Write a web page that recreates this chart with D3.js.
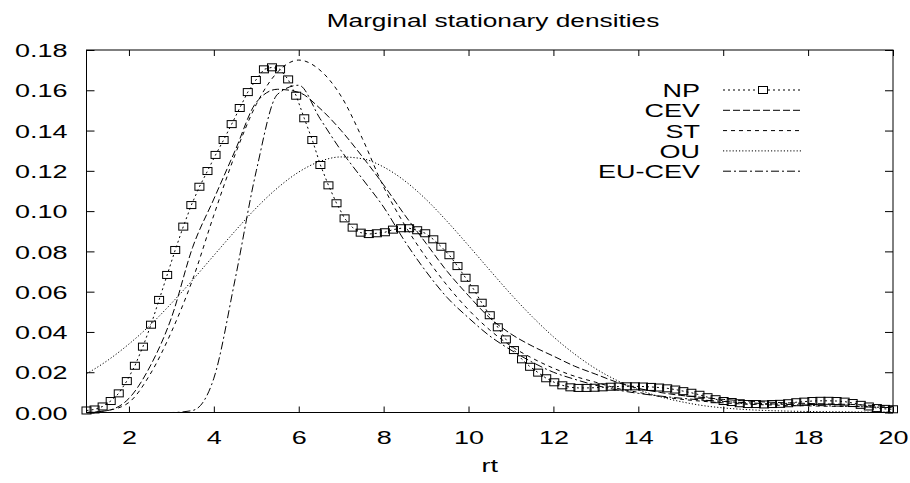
<!DOCTYPE html>
<html>
<head>
<meta charset="utf-8">
<script src="https://cdn.jsdelivr.net/npm/d3@7/dist/d3.min.js"></script>
<style>
  body { margin: 0; background: #fff; }
  svg { display: block; }
  text { font-family: "Liberation Sans", Arial, sans-serif; fill: #000; }
</style>
</head>
<body>
<div class="container"></div>
<script>
// grid of the smooth model curves
const xs = [1, 1.5, 2, 2.5, 3, 3.5, 4, 4.5, 5, 5.5, 6, 6.5, 7, 7.5, 8, 8.5, 9, 9.5, 10, 10.5,
  11, 11.5, 12, 12.5, 13, 13.5, 14, 14.5, 15, 15.5, 16, 16.5, 17, 17.5, 18, 18.5, 19, 19.5, 20];

const cev = [0.0000, 0.0010, 0.0070, 0.0230, 0.0470, 0.0820, 0.1060, 0.1300, 0.1540, 0.1605,
  0.1590, 0.1510, 0.1400, 0.1270, 0.1130, 0.0980, 0.0840, 0.0700, 0.0580, 0.0470,
  0.0390, 0.0330, 0.0280, 0.0230, 0.0190, 0.0150, 0.0120, 0.0100, 0.0085, 0.0075,
  0.0065, 0.0058, 0.0052, 0.0048, 0.0045, 0.0042, 0.0040, 0.0035, 0.0030];

const st = [0.0000, 0.0010, 0.0050, 0.0190, 0.0400, 0.0660, 0.0980, 0.1280, 0.1530, 0.1690,
  0.1750, 0.1700, 0.1570, 0.1360, 0.1120, 0.0930, 0.0770, 0.0630, 0.0510, 0.0410,
  0.0330, 0.0270, 0.0220, 0.0180, 0.0150, 0.0120, 0.0100, 0.0080, 0.0066, 0.0056,
  0.0048, 0.0042, 0.0038, 0.0035, 0.0033, 0.0031, 0.0030, 0.0028, 0.0025];

const ou = [0.0192, 0.0259, 0.0340, 0.0434, 0.0542, 0.0658, 0.0780, 0.0901, 0.1016, 0.1115,
  0.1194, 0.1247, 0.1269, 0.1260, 0.1219, 0.1150, 0.1058, 0.0948, 0.0829, 0.0707,
  0.0587, 0.0476, 0.0376, 0.0290, 0.0217, 0.0159, 0.0114, 0.0079, 0.0054, 0.0035,
  0.0023, 0.0015, 0.0010, 0.0007, 0.0005, 0.0004, 0.0003, 0.0002, 0.0002];

const euCev = [0, 0, 0, 0, 0, 0.0010, 0.0170, 0.0660, 0.1200, 0.1580,
  0.1625, 0.1460, 0.1300, 0.1160, 0.1020, 0.0850, 0.0700, 0.0570, 0.0470, 0.0380,
  0.0310, 0.0250, 0.0200, 0.0165, 0.0135, 0.0112, 0.0095, 0.0082, 0.0071, 0.0062,
  0.0055, 0.0049, 0.0044, 0.0040, 0.0036, 0.0033, 0.0030, 0.0027, 0.0024];

// nonparametric estimate, one point per marker
const npX = [1.00, 1.19, 1.38, 1.57, 1.76, 1.95, 2.14, 2.33, 2.52, 2.71, 2.90, 3.09, 3.28, 3.47,
  3.66, 3.85, 4.04, 4.23, 4.42, 4.61, 4.80, 4.99, 5.18, 5.37, 5.56, 5.75, 5.94, 6.13, 6.32,
  6.51, 6.70, 6.89, 7.08, 7.27, 7.46, 7.65, 7.84, 8.03, 8.22, 8.41, 8.60, 8.79, 8.98, 9.17,
  9.36, 9.55, 9.74, 9.93, 10.12, 10.31, 10.50, 10.69, 10.88, 11.07, 11.26, 11.45, 11.64,
  11.83, 12.02, 12.21, 12.40, 12.59, 12.78, 12.97, 13.16, 13.35, 13.54, 13.73, 13.92, 14.11,
  14.30, 14.49, 14.68, 14.87, 15.06, 15.25, 15.44, 15.63, 15.82, 16.01, 16.20, 16.39, 16.58,
  16.77, 16.96, 17.15, 17.34, 17.53, 17.72, 17.91, 18.10, 18.29, 18.48, 18.67, 18.86, 19.05,
  19.24, 19.43, 19.62, 19.81, 20.00];

const npY = [0.0010, 0.0015, 0.0030, 0.0057, 0.0095, 0.0156, 0.0232, 0.0327, 0.0436, 0.0559,
  0.0683, 0.0807, 0.0923, 0.1030, 0.1121, 0.1199, 0.1279, 0.1353, 0.1432, 0.1512,
  0.1591, 0.1651, 0.1704, 0.1714, 0.1704, 0.1654, 0.1573, 0.1461, 0.1353, 0.1229,
  0.1128, 0.1039, 0.0964, 0.0918, 0.0893, 0.0886, 0.0890, 0.0895, 0.0908, 0.0915,
  0.0915, 0.0905, 0.0890, 0.0860, 0.0823, 0.0781, 0.0727, 0.0669, 0.0612, 0.0545,
  0.0483, 0.0423, 0.0363, 0.0310, 0.0264, 0.0227, 0.0198, 0.0170, 0.0150, 0.0135,
  0.0125, 0.0122, 0.0122, 0.0123, 0.0125, 0.0128, 0.0129, 0.0130, 0.0130, 0.0129,
  0.0127, 0.0124, 0.0120, 0.0114, 0.0106, 0.0098, 0.0088, 0.0076, 0.0066, 0.0057,
  0.0052, 0.0046, 0.0042, 0.0042, 0.0040, 0.0042, 0.0043, 0.0046, 0.0051, 0.0054,
  0.0057, 0.0058, 0.0058, 0.0057, 0.0054, 0.0047, 0.0038, 0.0030, 0.0022, 0.0018, 0.0016];

const xTicks = [2, 4, 6, 8, 10, 12, 14, 16, 18, 20];
const yTicks = [0, 0.02, 0.04, 0.06, 0.08, 0.10, 0.12, 0.14, 0.16, 0.18];
const legendNames = ["NP", "CEV", "ST", "OU", "EU-CEV"];

const w = 910;
const h = 483;
const padL = 86.5, padR = 893, padT = 50, padB = 412.5;
const sx = 1.42; // the original picture is stretched sideways

const xScale = d3.scaleLinear().domain([1, 20]).range([padL, padR]);
const yScale = d3.scaleLinear().domain([0, 0.18]).range([padB, padT]);

const svg = d3.select(".container")
  .append("svg")
  .attr("width", w)
  .attr("height", h);

function label(x, y, str, anchor, size) {
  return svg.append("text")
    .attr("transform", "translate(" + x + "," + y + ") scale(" + sx + ",1)")
    .attr("text-anchor", anchor)
    .attr("font-size", size)
    .text(str);
}

label(493, 27, "Marginal stationary densities", "middle", 18.5);
label((padL + padR) / 2, 472, "rt", "middle", 19);

// axes, ticks pointing inwards like gnuplot
const yAxis = d3.axisLeft(yScale).tickValues(yTicks).tickFormat(d3.format(".2f"))
  .tickSize(-8).tickPadding(0);
const gy = svg.append("g").attr("transform", "translate(" + padL + ",0)").call(yAxis);
gy.select(".domain").remove();
gy.selectAll("text")
  .attr("x", null).attr("dy", "0.35em")
  .attr("transform", "translate(-19,0) scale(" + sx + ",1)")
  .attr("font-size", 19).attr("font-family", "Liberation Sans, Arial, sans-serif");

const xAxis = d3.axisBottom(xScale).tickValues(xTicks).tickFormat(d3.format("d"))
  .tickSize(-6).tickPadding(0);
const gx = svg.append("g").attr("transform", "translate(0," + padB + ")").call(xAxis);
gx.select(".domain").remove();
gx.selectAll("text")
  .attr("y", null).attr("dy", null)
  .attr("transform", "translate(0,31) scale(" + sx + ",1)")
  .attr("font-size", 19).attr("font-family", "Liberation Sans, Arial, sans-serif");

const gr = svg.append("g").attr("transform", "translate(" + padR + ",0)")
  .call(d3.axisRight(yScale).tickValues(yTicks).tickSize(-8).tickFormat(""));
gr.select(".domain").remove();
const gt = svg.append("g").attr("transform", "translate(0," + padT + ")")
  .call(d3.axisTop(xScale).tickValues(xTicks).tickSize(-6).tickFormat(""));
gt.select(".domain").remove();
svg.selectAll(".tick line").attr("stroke", "#000");

svg.append("rect")
  .attr("x", padL).attr("y", padT)
  .attr("width", padR - padL).attr("height", padB - padT)
  .attr("fill", "none").attr("stroke", "#000").attr("stroke-width", 1);

const styles = {
  NP: "2,3",
  CEV: "7,3",
  ST: "4,4",
  OU: "1.2,2",
  "EU-CEV": "8,3,2,3"
};

const line = d3.line()
  .x((d) => xScale(d[0]))
  .y((d) => yScale(d[1]))
  .curve(d3.curveMonotoneX);

const smooth = [
  { name: "CEV", values: cev },
  { name: "ST", values: st },
  { name: "OU", values: ou },
  { name: "EU-CEV", values: euCev }
];

smooth.forEach((s) => {
  svg.append("path")
    .datum(xs.map((x, i) => [x, s.values[i]]))
    .attr("d", line)
    .attr("fill", "none")
    .attr("stroke", "#000")
    .attr("stroke-width", 1)
    .attr("stroke-dasharray", styles[s.name]);
});

const npData = npX.map((x, i) => [x, npY[i]]);
svg.append("path")
  .datum(npData)
  .attr("d", d3.line().x((d) => xScale(d[0])).y((d) => yScale(d[1])))
  .attr("fill", "none")
  .attr("stroke", "#000")
  .attr("stroke-width", 1)
  .attr("stroke-dasharray", styles.NP);

svg.selectAll("rect.np")
  .data(npData)
  .enter()
  .append("rect")
  .attr("class", "np")
  .attr("x", (d) => xScale(d[0]) - 4.5)
  .attr("y", (d) => yScale(d[1]) - 3.5)
  .attr("width", 9)
  .attr("height", 7)
  .attr("fill", "none")
  .attr("stroke", "#000")
  .attr("stroke-width", 1);

// legend
const legend = svg.append("g").attr("id", "legend");
legendNames.forEach((name, i) => {
  const y = 90 + i * 20.3;
  legend.append("text")
    .attr("transform", "translate(700," + (y + 7) + ") scale(" + sx + ",1)")
    .attr("text-anchor", "end")
    .attr("font-size", 19)
    .text(name);
  legend.append("line")
    .attr("x1", 723).attr("x2", 802)
    .attr("y1", y).attr("y2", y)
    .attr("stroke", "#000")
    .attr("stroke-width", 1)
    .attr("stroke-dasharray", styles[name]);
  if (name === "NP") {
    legend.append("rect")
      .attr("x", 763 - 4.5).attr("y", y - 3.5)
      .attr("width", 9).attr("height", 7)
      .attr("fill", "#fff").attr("stroke", "#000");
  }
});
</script>
</body>
</html>
